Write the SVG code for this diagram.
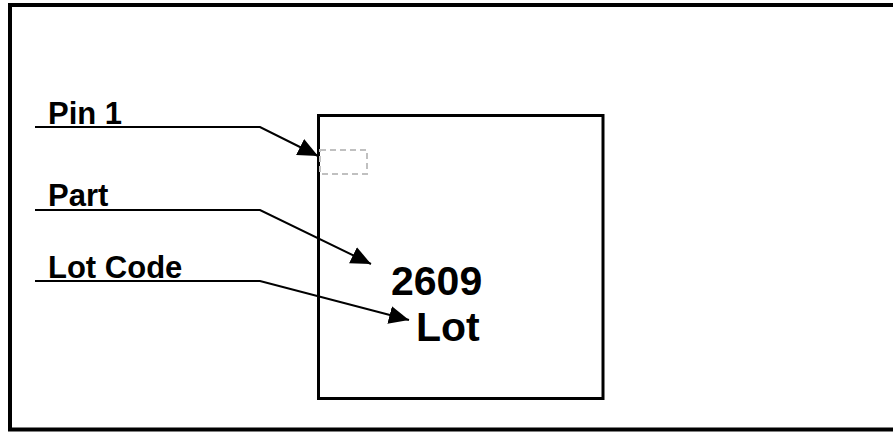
<svg xmlns="http://www.w3.org/2000/svg" width="893" height="432" viewBox="0 0 893 432">
<defs>
<style>
.lbl{font-family:"Liberation Sans",Arial,sans-serif;font-weight:bold;font-size:31px;fill:#000}
.big{font-family:"Liberation Sans",Arial,sans-serif;font-weight:bold;font-size:41px;fill:#000}
.lead{fill:none;stroke:#000;stroke-width:2}
</style>
<marker id="ah" markerUnits="userSpaceOnUse" markerWidth="22" markerHeight="18" refX="20" refY="9" orient="auto">
<path d="M0,0 L20,9 L0,18 Z" fill="#000"/>
</marker>
</defs>
<rect x="0" y="0" width="893" height="432" fill="#fff"/>
<g id="frame">
<path d="M10,431 L10,5 L893,5 M8,429.5 L893,429.5" fill="none" stroke="#000" stroke-width="4"/>
</g>
<g id="chip">
<rect x="318.5" y="115.5" width="284.5" height="283" fill="none" stroke="#000" stroke-width="3"/>
<text class="big" x="391" y="295">2609</text>
<text class="big" x="416" y="341">Lot</text>
</g>
<g id="pin1-mark">
<rect x="320" y="150" width="47" height="24" fill="none" stroke="#c0c0c0" stroke-width="2" stroke-dasharray="6,4"/>
</g>
<g id="label-pin1"><text class="lbl" x="48" y="124">Pin 1</text></g>
<g id="label-part"><text class="lbl" x="48" y="206">Part</text></g>
<g id="label-lot"><text class="lbl" x="48" y="278">Lot Code</text></g>
<g id="connectors">
<path class="lead" d="M35,127 L260,127 L318,156" marker-end="url(#ah)"/>
<path class="lead" d="M35,210 L260,210 L371,264" marker-end="url(#ah)"/>
<path class="lead" d="M35,281 L260,281 L409,320" marker-end="url(#ah)"/>
</g>
</svg>
